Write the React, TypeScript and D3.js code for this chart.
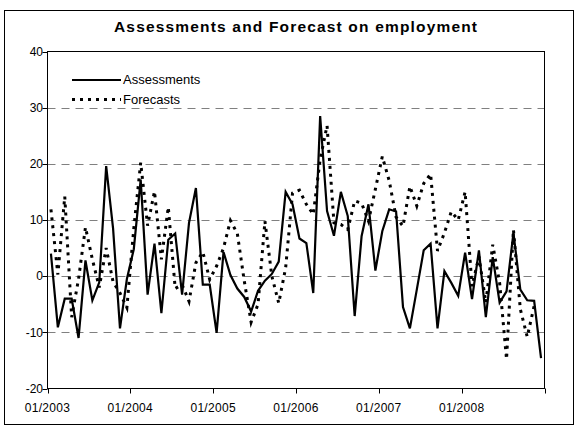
import React from "react";
import * as d3 from "d3";

const assessments: number[] = [
  4.0, -9.1, -4.0, -4.0, -11.0, 2.8, -4.3, -1.1, 19.6, 8.5, -9.3, -0.5,
  4.8, 17.2, -3.3, 5.8, -6.6, 6.5, 7.6, -3.3, 9.5, 15.7, -1.5, -1.5,
  -10.1, 4.3, 0.2, -2.2, -3.7, -6.3, -2.6, -0.8, 0.4, 2.6, 15.0, 12.8,
  6.7, 5.9, -3.0, 28.5, 11.6, 7.2, 15.0, 10.7, -7.1, 7.1, 12.8, 1.0,
  8.0, 11.9, 11.5, -5.5, -9.3, -2.4, 4.6, 5.8, -9.3, 0.9, -1.2, -3.5,
  4.2, -4.1, 4.6, -7.3, 3.4, -4.7, -2.7, 7.7, -2.4, -4.3, -4.4, -14.6,
];

const forecasts: number[] = [
  11.9, 0.3, 14.2, -7.3, -0.5, 8.7, 3.0, -2.0, 5.0, -1.0, -3.0, -5.6,
  8.5, 20.2, 9.0, 15.1, 3.0, 12.3, -2.2, -1.5, -4.5, 2.4, 4.3, -0.6,
  1.8, 5.0, 9.9, 7.6, -0.8, -8.2, -5.0, 9.8, 0.0, -4.8, 1.5, 14.8,
  15.3, 12.8, 11.0, 20.8, 26.8, 9.5, 9.2, 8.3, 13.4, 13.0, 9.8, 15.5,
  21.3, 17.0, 10.5, 8.9, 16.0, 12.5, 16.5, 18.2, 4.5, 7.7, 11.5, 10.0,
  15.0, -1.8, 3.5, -4.7, 5.6, -1.2, -14.8, 8.3, -5.9, -10.8, -5.3,
];

const yearLabels: string[] = ["01/2003", "01/2004", "01/2005", "01/2006", "01/2007", "01/2008"];
const yTicks: number[] = [-20, -10, 0, 10, 20, 30, 40];
const gridValues: number[] = [-10, 0, 10, 20, 30];
const seriesNames: string[] = ["Assessments", "Forecasts"];
const title = "Assessments and Forecast on employment";

const FONT = "'Liberation Sans', Arial, sans-serif";

export default function App() {
  const W = 579;
  const H = 431;
  const left = 47.5;
  const right = 544.5;
  const top = 51.5;
  const bottom = 388.5;
  const nMonths = 72;

  const x = d3.scaleLinear().domain([0, nMonths]).range([left, right]);
  const y = d3.scaleLinear().domain([-20, 40]).range([bottom, top]);

  const line = d3
    .line<number>()
    .x((_, i) => x(i + 0.5))
    .y((d) => y(d));

  const yearTicks = d3.range(0, nMonths + 1, 12);

  return (
    <svg
      width={W}
      height={H}
      style={{ position: "absolute", left: 0, top: 0, background: "#fff" }}
      fontFamily={FONT}
    >
      <rect x={0} y={0} width={W} height={H} fill="#fff" />
      <rect x={4.5} y={10.5} width={569} height={414} fill="none" stroke="#000" strokeWidth={1} />
      <text
        x={295.5}
        y={32}
        textAnchor="middle"
        fontSize={15.5}
        fontWeight="bold"
        textLength={363}
        lengthAdjust="spacing"
        fill="#000"
      >
        {title}
      </text>

      {gridValues.map((v) => (
        <line
          key={"g" + v}
          x1={left}
          x2={right}
          y1={Math.round(y(v)) + 0.5}
          y2={Math.round(y(v)) + 0.5}
          stroke="#808080"
          strokeWidth={1}
          strokeDasharray="8,6"
        />
      ))}

      <rect x={left} y={top} width={right - left} height={bottom - top} fill="none" stroke="#000" strokeWidth={1} />

      {yTicks.map((v) => (
        <g key={"y" + v}>
          <line x1={left - 5} x2={left} y1={Math.round(y(v)) + 0.5} y2={Math.round(y(v)) + 0.5} stroke="#000" />
          <text x={43} y={y(v)} dy="0.35em" textAnchor="end" fontSize={12} fill="#000">
            {v}
          </text>
        </g>
      ))}

      {yearTicks.map((m) => (
        <line key={"xt" + m} x1={Math.round(x(m)) + 0.5} x2={Math.round(x(m)) + 0.5} y1={bottom} y2={bottom + 5} stroke="#000" />
      ))}
      {yearLabels.map((lab, k) => (
        <text key={lab} x={x(k * 12)} y={411.5} textAnchor="middle" fontSize={12} letterSpacing={0.3} fill="#000">
          {lab}
        </text>
      ))}

      <path d={line(assessments) || ""} fill="none" stroke="#000" strokeWidth={2.2} strokeLinejoin="miter" />
      <path d={line(forecasts) || ""} fill="none" stroke="#000" strokeWidth={3} strokeDasharray="3,5" />

      <line x1={72} x2={121} y1={80} y2={80} stroke="#000" strokeWidth={2.2} />
      <text x={123} y={83.5} fontSize={13} fill="#000">{seriesNames[0]}</text>
      <line x1={72} x2={121} y1={99.5} y2={99.5} stroke="#000" strokeWidth={3} strokeDasharray="3,5" />
      <text x={123} y={103.5} fontSize={13} fill="#000">{seriesNames[1]}</text>
    </svg>
  );
}
